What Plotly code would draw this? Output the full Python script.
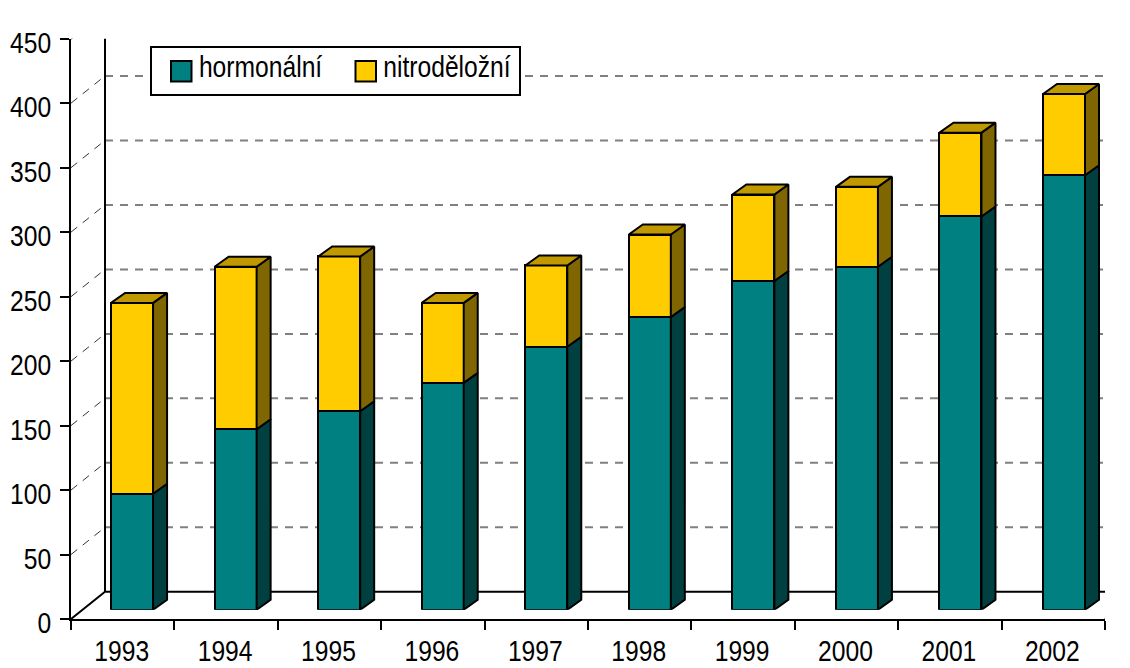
import plotly.graph_objects as go

years = [1993, 1994, 1995, 1996, 1997, 1998, 1999, 2000, 2001, 2002]
hormonalni = [90, 140, 154, 176, 204, 227, 255, 266, 305, 337]
nitrodelozni = [148, 126, 120, 62, 63, 64, 67, 62, 65, 63]
y_ticks = [0, 50, 100, 150, 200, 250, 300, 350, 400, 450]

W, H = 1130, 668
FONT = "Liberation Sans, Arial"
FS = 29
INK = "#000000"
TEAL, TEAL_DARK = "#008080", "#004040"
YEL, YEL_SIDE, YEL_TOP = "#FFCC00", "#806600", "#C09900"

# plot-area geometry in pixels
L, R, T, B = 71, 1116, 28, 618.7
AX_R, AX_T = 1105, 38.7          # main axes end
SHIFT_X, SHIFT_Y = 9.3, 9.2      # bars sit this far into the floor
BAR_SPAN = 1035.5                # pixel width of the ten bar slots
px_per_x = BAR_SPAN / 10
px_per_y = (B - AX_T) / 450
wall_dx, wall_dy = 34 / ((AX_R - L) / 10), 27.2 / px_per_y
bar_dx, bar_dy = 14 / px_per_x, 10 / px_per_y
bar_w = 42 / px_per_x
x0, x1 = years[0] - 0.5, years[-1] + 0.5
PW, PH = R - L, B - T


def pxx(p):
    return (p - L) / PW


def pxy(p):
    return (B - p) / PH


fig = go.Figure()

# walls and floor (main axes)
wall_x = [x0, x0 + wall_dx, x1 + wall_dx, None, x0 + wall_dx, x0 + wall_dx, None,
          x0, x0 + wall_dx, x1 + wall_dx, None, x1, x1 + wall_dx]
wall_y = [450, 450 + wall_dy, 450 + wall_dy, None, 450 + wall_dy, wall_dy, None,
          0, wall_dy, wall_dy, None, 0, wall_dy]

grid_x, grid_y, diag_x, diag_y = [], [], [], []
for v in y_ticks[1:-1]:
    grid_x += [x0 + wall_dx, x1 + wall_dx, None]
    grid_y += [v + wall_dy, v + wall_dy, None]
    diag_x += [x0, x0 + wall_dx, None]
    diag_y += [v, v + wall_dy, None]

fig.add_trace(go.Scatter(x=grid_x, y=grid_y, mode="lines", cliponaxis=False, hoverinfo="skip",
                         showlegend=False, line=dict(color="#808080", width=2, dash="8px,7px")))
fig.add_trace(go.Scatter(x=diag_x, y=diag_y, mode="lines", cliponaxis=False, hoverinfo="skip",
                         showlegend=False, line=dict(color="#333333", width=1, dash="8px,7px")))
fig.add_trace(go.Scatter(x=wall_x, y=wall_y, mode="lines", cliponaxis=False, hoverinfo="skip",
                         showlegend=False, line=dict(color="black", width=2)))

# front faces of the bars
fig.add_trace(go.Bar(x=years, y=hormonalni, name="hormonální", width=bar_w, xaxis="x2", yaxis="y2",
                     marker=dict(color=TEAL, line=dict(color="black", width=2)), showlegend=False))
fig.add_trace(go.Bar(x=years, y=nitrodelozni, name="nitroděložní", width=bar_w, xaxis="x2", yaxis="y2",
                     marker=dict(color=YEL, line=dict(color="black", width=2)), showlegend=False))


def side(lows, highs):
    xs, ys = [], []
    for yr, lo, hi in zip(years, lows, highs):
        r = yr + bar_w / 2
        xs += [r, r + bar_dx, r + bar_dx, r, r, None]
        ys += [lo, lo + bar_dy, hi + bar_dy, hi, lo, None]
    return xs, ys


totals = [a + b for a, b in zip(hormonalni, nitrodelozni)]
sx, sy = side([0] * len(years), hormonalni)
fig.add_trace(go.Scatter(x=sx, y=sy, mode="lines", fill="toself", fillcolor=TEAL_DARK, xaxis="x2", yaxis="y2",
                         line=dict(color="black", width=2), showlegend=False, hoverinfo="skip", cliponaxis=False))
sx, sy = side(hormonalni, totals)
fig.add_trace(go.Scatter(x=sx, y=sy, mode="lines", fill="toself", fillcolor=YEL_SIDE, xaxis="x2", yaxis="y2",
                         line=dict(color="black", width=2), showlegend=False, hoverinfo="skip", cliponaxis=False))
tx, ty = [], []
for yr, t in zip(years, totals):
    a, b = yr - bar_w / 2, yr + bar_w / 2
    tx += [a, b, b + bar_dx, a + bar_dx, a, None]
    ty += [t, t, t + bar_dy, t + bar_dy, t, None]
fig.add_trace(go.Scatter(x=tx, y=ty, mode="lines", fill="toself", fillcolor=YEL_TOP, xaxis="x2", yaxis="y2",
                         line=dict(color="black", width=2), showlegend=False, hoverinfo="skip", cliponaxis=False))

# hand-built legend
shapes = [
    dict(type="rect", xref="paper", yref="paper", x0=pxx(151), x1=pxx(520), y0=pxy(95), y1=pxy(47),
         fillcolor="white", line=dict(color="black", width=2), layer="above"),
    dict(type="rect", xref="paper", yref="paper", x0=pxx(171), x1=pxx(191.5), y0=pxy(81.5), y1=pxy(61),
         fillcolor=TEAL, line=dict(color="black", width=2), layer="above"),
    dict(type="rect", xref="paper", yref="paper", x0=pxx(355.5), x1=pxx(376), y0=pxy(81.5), y1=pxy(61),
         fillcolor=YEL, line=dict(color="black", width=2), layer="above"),
]
annotations = [
    dict(text="hormonální", xref="paper", yref="paper", x=pxx(186), y=pxy(66.5), xanchor="left", yanchor="middle",
         showarrow=False, font=dict(family=FONT, size=FS, color=INK)),
    dict(text="nitroděložní", xref="paper", yref="paper", x=pxx(370), y=pxy(66.5), xanchor="left", yanchor="middle",
         showarrow=False, font=dict(family=FONT, size=FS, color=INK)),
]

boundaries = [x0 + i for i in range(len(years) + 1)]
fig.update_layout(
    width=W, height=H, autosize=False,
    margin=dict(l=L, r=W - R, t=T, b=H - B, pad=0, autoexpand=False),
    paper_bgcolor="white", plot_bgcolor="rgba(0,0,0,0)",
    barmode="stack", showlegend=False,
    shapes=shapes, annotations=annotations,
    font=dict(family=FONT, size=FS, color=INK),
    xaxis=dict(domain=[0, (AX_R - L) / PW], range=[x0, x1], tickmode="array", tickvals=years,
               ticktext=[str(y) for y in years], ticks="", showgrid=False, zeroline=False, automargin=False,
               showline=True, linecolor="black", linewidth=2, anchor="y", ticklabelstandoff=5, ticklabelshift=-1,
               minor=dict(tickmode="array", tickvals=boundaries, ticks="outside", ticklen=9,
                          tickwidth=2, tickcolor="black", showgrid=False)),
    yaxis=dict(domain=[0, (B - AX_T) / PH], range=[0, 450], tickmode="array", tickvals=y_ticks,
               ticks="outside", ticklen=9, tickwidth=2, tickcolor="black", showgrid=False, zeroline=False,
               automargin=False, showline=True, linecolor="black", linewidth=2, anchor="x",
               ticklabelstandoff=3, ticklabelshift=4),
    xaxis2=dict(domain=[SHIFT_X / PW, (BAR_SPAN + SHIFT_X) / PW], range=[x0, x1], visible=False, anchor="y2",
                automargin=False),
    yaxis2=dict(domain=[SHIFT_Y / PH, (B - AX_T + SHIFT_Y) / PH], range=[0, 450], visible=False, anchor="x2",
                automargin=False),
)

# The reference font is a condensed Arial; squeeze the real text glyphs to the same width.
POST = """
document.body.style.margin = '0';
function squeeze() {
  var gd = document.getElementById('{plot_id}');
  gd.querySelectorAll('svg text').forEach(function (t) {
    if (t.getAttribute('lengthAdjust') || !t.textContent) return;
    var w = t.getComputedTextLength();
    if (w > 0) {
      t.setAttribute('textLength', (w * 0.85).toFixed(2));
      t.setAttribute('lengthAdjust', 'spacingAndGlyphs');
    }
  });
}
squeeze();
setTimeout(squeeze, 50);
setTimeout(squeeze, 300);
"""
fig.write_html("out.html", post_script=POST, config={"displayModeBar": False})
